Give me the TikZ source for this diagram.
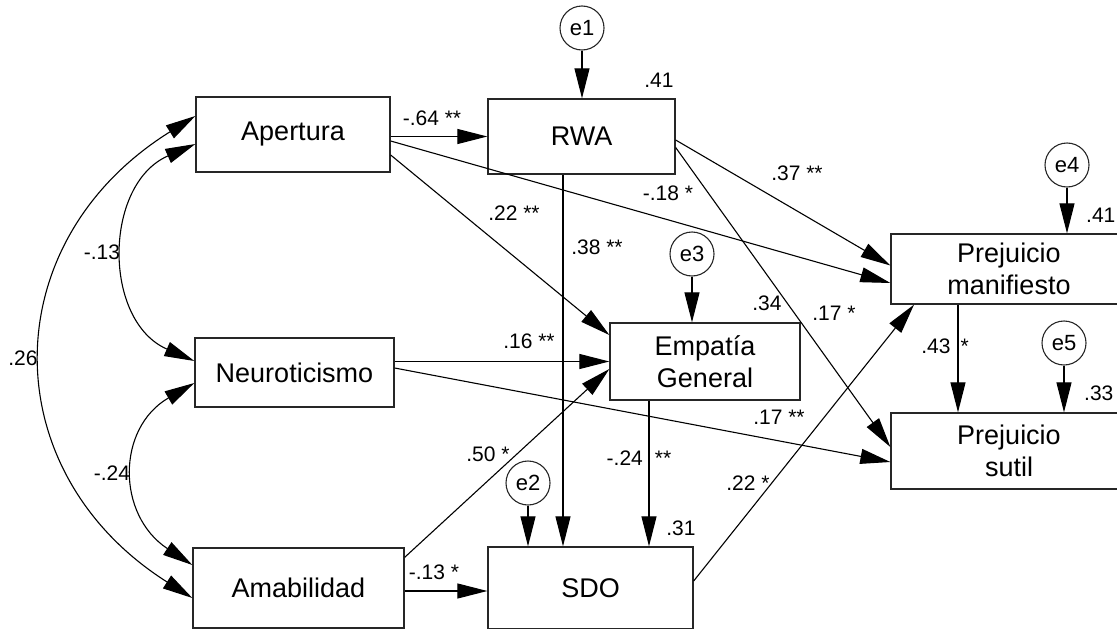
\documentclass[tikz,border=0pt]{standalone}
\usepackage{fontspec}
\setmainfont{Liberation Sans}
\usetikzlibrary{arrows.meta,calc}
\begin{document}
\begin{tikzpicture}[x=1pt,y=-1pt,
  box/.style={draw=black!85,line width=1.3pt,inner sep=0pt,align=center,
    font=\fontsize{27}{32}\selectfont},
  err/.style={draw=black!85,circle,line width=1.1pt,minimum size=44pt,inner sep=0pt,
    font=\fontsize{22}{24}\selectfont},
  arr/.style={line width=1.1pt,-{Triangle[length=30pt,width=15pt]}},
  cov/.style={line width=1.1pt,{Triangle[length=30pt,width=15pt]}-{Triangle[length=30pt,width=15pt]}},
  lab/.style={inner sep=0pt,font=\fontsize{21}{24}\selectfont}
]
\useasboundingbox (0,0) rectangle (1117,629);
\clip (0,0) rectangle (1117,629);

% boxes
\node[box,minimum width=194pt,minimum height=75pt] (Apertura) at (293,134.5) {Apertura};
\node[box,minimum width=187pt,minimum height=75pt] (RWA) at (581.5,136.5) {RWA};
\node[box,minimum width=199pt,minimum height=69pt] (Neuro) at (294.5,372.5) {Neuroticismo};
\node[box,minimum width=211pt,minimum height=80pt] (Amab) at (298.5,588) {Amabilidad};
\node[box,minimum width=205pt,minimum height=82pt] (SDO) at (590.5,588) {SDO};
\node[box,minimum width=190pt,minimum height=77pt] (Emp) at (705,361.5) {Empatía\\General};
\node[box,minimum width=236pt,minimum height=70pt] (PM) at (1009,269) {Prejuicio\\manifiesto};
\node[box,minimum width=236pt,minimum height=76pt] (PS) at (1009,451) {Prejuicio\\sutil};

% error terms
\node[err] (e1) at (582,28) {e1};
\node[err] (e2) at (528,483) {e2};
\node[err] (e3) at (692,254) {e3};
\node[err] (e4) at (1067,165) {e4};
\node[err] (e5) at (1064,343) {e5};

% error arrows
\draw[arr] (e1.south) -- (e1.south |- RWA.north);
\draw[arr] (e2.south) -- (e2.south |- SDO.north);
\draw[arr] (e3.south) -- (e3.south |- Emp.north);
\draw[arr] (e4.south) -- (e4.south |- PM.north);
\draw[arr] (e5.south) -- (e5.south |- PS.north);

% paths
\draw[arr] (Apertura.east |- RWA.west) -- (RWA.west);
\draw[arr] ($(Apertura.east)+(0,6.5)$) -- ($(PM.west)+(0,14)$);
\draw[arr] ($(Apertura.east)+(0,20.5)$) -- ($(Emp.west)+(0,-26.5)$);
\draw[arr] ($(RWA.east)+(0,3.5)$) -- ($(PM.west)+(0,-3.5)$);
\draw[arr] ($(RWA.east)+(0,11)$) -- ($(PS.west)+(0,-4)$);
\draw[arr] ($(RWA.south)+(-18.5,0)$) -- ($(SDO.north)+(-27.5,0)$);
\draw[arr] (Neuro.east |- Emp.west) -- (Emp.west);
\draw[arr] ($(Neuro.east)+(0,-4.5)$) -- ($(PS.west)+(0,11)$);
\draw[arr] ($(Amab.north east)+(0,10)$) -- ($(Emp.west)+(0,7.5)$);
\draw[arr] ($(Amab.east)+(0,3)$) -- ($(SDO.west)+(0,3)$);
\draw[arr] ($(Emp.south)+(-56,0)$) -- ($(SDO.north)+(58.5,0)$);
\draw[arr] ($(SDO.east)+(0,-7)$) -- ($(PM.south)+(-95,0)$);
\draw[arr] ($(PM.south)+(-51,0)$) -- ($(PS.north)+(-51,0)$);

% covariances
\draw[cov] ($(Apertura.west)+(0,9.5)$) .. controls +(-92,40) and +(-92,-40) .. ($(Neuro.west)+(0,-11.5)$);
\draw[cov] ($(Neuro.west)+(0,10.5)$) .. controls +(-78,45) and +(-76,-50) .. ($(Amab.west)+(0,-23)$);
\draw[cov] ($(Apertura.west)+(0,-18.5)$) .. controls +(-202,126) and +(-199,-126) .. ($(Amab.west)+(0,10)$);

% labels
\node[lab] (l1) at (432,118) {-.64 **};
\node[lab] (l2) at (514,213) {.22 **};
\node[lab] (l3) at (102,252) {-.13};
\node[lab] (l4) at (23,358) {.26};
\node[lab] (l5) at (112,473) {-.24};
\node[lab] (l6) at (797,173) {.37 **};
\node[lab] (l7) at (668,193) {-.18 *};
\node[lab] (l8) at (597,247) {.38 **};
\node[lab] (l9) at (659,80) {.41};
\node[lab] (l10) at (767,303) {.34};
\node[lab] (l11) at (834,313) {.17 *};
\node[lab,anchor=west] (l12) at (1086,215) {.41};
\node[lab] (l13) at (529,341) {.16 **};
\node[lab] (l14) at (488,454) {.50 *};
\node[lab] (l15) at (434,572) {-.13 *};
\node[lab] (l16) at (779,417) {.17 **};
\node[lab] (l17) at (639,458) {-.24\hspace{12pt}**};
\node[lab] (l18) at (945,346) {.43\hspace{10pt}*};
\node[lab] (l19) at (748,483) {.22 *};
\node[lab] (l20) at (681,528) {.31};
\node[lab,anchor=west] (l21) at (1084,393) {.33};
\end{tikzpicture}
\end{document}
